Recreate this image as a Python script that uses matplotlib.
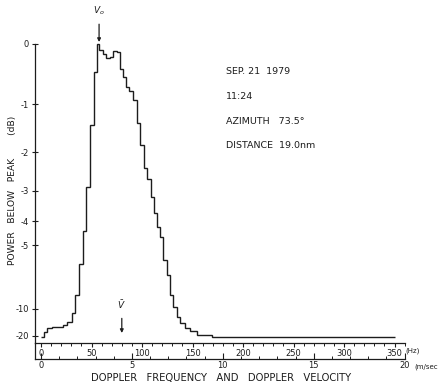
import numpy as np
import matplotlib
matplotlib.use("Agg")
import matplotlib.pyplot as plt
from matplotlib.ticker import MultipleLocator, FixedLocator

plt.rcParams['font.family'] = ['DejaVu Sans']

# ---- data ----
freq_edges_hz = [0, 2.5, 5.5, 10.5, 22, 25.5, 30.5, 33.5, 38, 42,
                 45, 48.5, 52, 55, 57.5, 61, 64.5, 68.5, 71.5, 75.5,
                 78, 81.5, 84, 87.5, 91, 95, 98, 101.5, 104.5, 108.5,
                 112, 114.5, 118, 120.5, 124.5, 127.5, 131, 134.5, 137.5, 142.5,
                 147.5, 154.5, 169.5, 350]
level_db = [-22.1, -16.4, -14.5, -14.0, -13.4, -12.4, -10.6, -8.3, -6.0, -4.4,
            -2.9, -1.4, -0.44, 0.0, -0.10, -0.15, -0.22, -0.20, -0.11, -0.12,
            -0.39, -0.52, -0.69, -0.77, -0.92, -1.36, -1.83, -2.38, -2.66, -3.18,
            -3.71, -4.21, -4.63, -5.75, -6.67, -8.31, -9.67, -11.3, -12.8, -14.5,
            -16.0, -19.0, -23.9]
ytick_db = [0, -1, -2, -3, -4, -5, -10, -20]
ytick_labels = ["0", "-1", "-2", "-3", "-4", "-5", "-10", "-20"]
freq_ticks = [0, 50, 100, 150, 200, 250, 300, 350]
vel_ticks = [0, 5, 10, 15, 20]
hz_per_ms = 18.0
peak_hz = 57.5
mean_hz = 80.0
info_lines = ["SEP. 21  1979", "11:24", "AZIMUTH   73.5°", "DISTANCE  19.0nm"]

# ---- figure ----
W, H = 439, 386
fig = plt.figure(figsize=(W / 100, H / 100), dpi=100)

def hz_of_px(px):
    return (px - 41) / 1.01

def pw_of_py(py):
    return (338.5 - py) / 295.0

ax_l, ax_r, ax_t, ax_b = 35, 405, 30, 343
ax = fig.add_axes([ax_l / W, 1 - ax_b / H, (ax_r - ax_l) / W, (ax_b - ax_t) / H])
ax.set_xlim(hz_of_px(ax_l), hz_of_px(ax_r))
ax.set_ylim(pw_of_py(ax_b), pw_of_py(ax_t))

ink = '#1c1c1c'
power = 10 ** (np.array(level_db) / 10.0)
ax.stairs(power, freq_edges_hz, color=ink, lw=1.0, baseline=None)

for s in ['top', 'right']:
    ax.spines[s].set_visible(False)
ax.spines['left'].set_bounds(pw_of_py(ax_b), 1.0)
for s in ['left', 'bottom']:
    ax.spines[s].set_color(ink)
    ax.spines[s].set_linewidth(0.9)

# y axis (linear power, dB labels)
ax.set_yticks([10 ** (d / 10.0) for d in ytick_db])
ax.set_yticklabels(ytick_labels)
ax.tick_params(axis='y', direction='inout', length=5, width=0.8, labelsize=6,
               pad=2, colors=ink)

# frequency axis
ax.xaxis.set_major_locator(FixedLocator(freq_ticks))
ax.xaxis.set_minor_locator(MultipleLocator(10))
ax.set_xticklabels([str(t) for t in freq_ticks])
ax.tick_params(axis='x', which='major', direction='out', length=3, width=0.8,
               labelsize=6, pad=1.5, colors=ink)
ax.tick_params(axis='x', which='minor', direction='out', length=2, width=0.7, colors=ink)

# velocity axis
loc = -(359 - ax_b) / (ax_b - ax_t)
sec = ax.secondary_xaxis(loc, functions=(lambda f: f / hz_per_ms, lambda v: v * hz_per_ms))
sec.xaxis.set_major_locator(FixedLocator(vel_ticks))
sec.xaxis.set_minor_locator(MultipleLocator(1))
sec.set_xticklabels([str(t) for t in vel_ticks])
sec.tick_params(axis='x', which='major', direction='in', length=4, width=0.8,
                labelsize=6, pad=1.5, colors=ink)
sec.tick_params(axis='x', which='minor', direction='in', length=2, width=0.7, colors=ink)
sec.spines['bottom'].set_color(ink)
sec.spines['bottom'].set_linewidth(0.9)
ax.plot([0, 0], [loc, 0], transform=ax.transAxes, color=ink, lw=0.9, clip_on=False)

def ft(px, py, s, **kw):
    fig.text(px / W, 1 - py / H, s, color=ink, **kw)

ft(405, 351, "(Hz)", fontsize=5, ha='left', va='center')
ft(414, 367, "(m/sec)", fontsize=5, ha='left', va='center')

ft(221, 378, "DOPPLER   FREQUENCY   AND   DOPPLER   VELOCITY", fontsize=7.2,
   ha='center', va='center')
ft(13, 190, "POWER   BELOW   PEAK        (dB)", fontsize=6.6, ha='center',
   va='center', rotation=90)

for i, line in enumerate(info_lines):
    ft(226, 72 + 24.5 * i, line, fontsize=6.8, ha='left', va='center')

# peak and mean markers
ax.annotate("$V_o$", xy=(peak_hz, pw_of_py(42)), xytext=(peak_hz, pw_of_py(11)),
            ha='center', va='center', fontsize=6.5, color=ink, annotation_clip=False,
            arrowprops=dict(arrowstyle='-|>', color=ink, lw=0.9, mutation_scale=5,
                            shrinkA=3, shrinkB=0))
ax.annotate(r"$\bar{V}$", xy=(mean_hz, pw_of_py(333)), xytext=(mean_hz, pw_of_py(305)),
            ha='center', va='center', fontsize=6.5, color=ink,
            arrowprops=dict(arrowstyle='-|>', color=ink, lw=0.9, mutation_scale=5,
                            shrinkA=3, shrinkB=0))

fig.savefig("out.png", dpi=100)
